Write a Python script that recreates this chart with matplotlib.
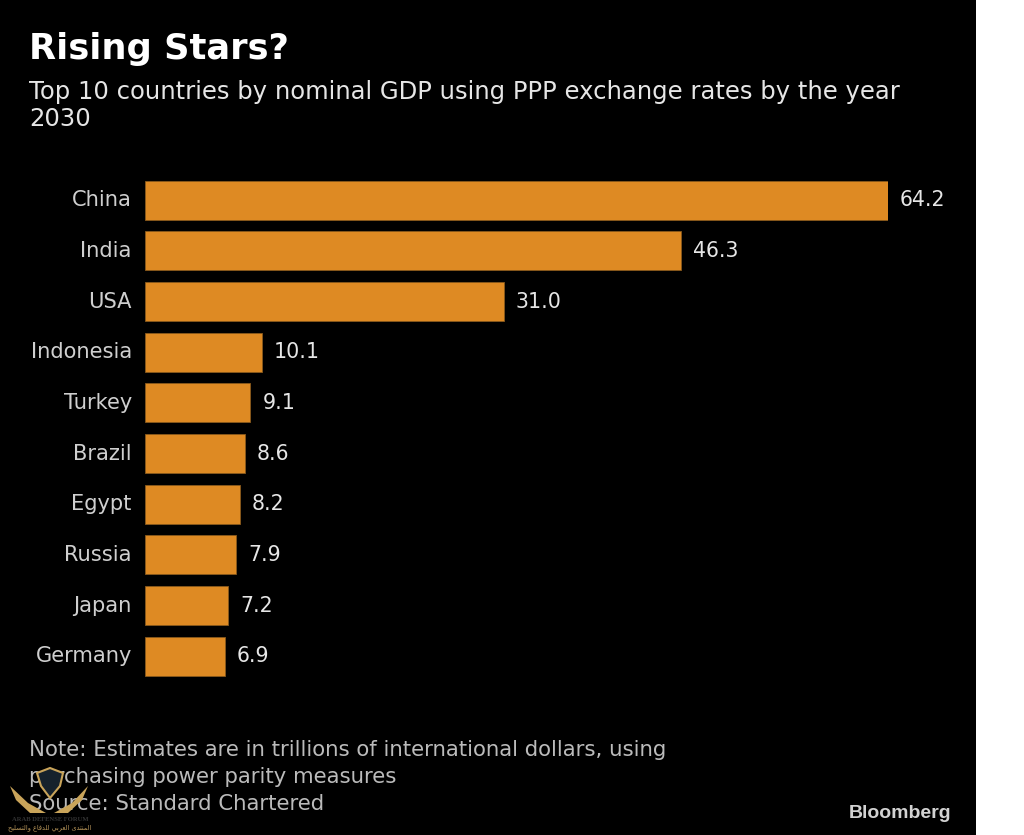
import matplotlib
matplotlib.use("Agg")
import matplotlib.pyplot as plt
from matplotlib.patches import Rectangle, Polygon

countries = ["China", "India", "USA", "Indonesia", "Turkey", "Brazil", "Egypt", "Russia", "Japan", "Germany"]
values = [64.2, 46.3, 31.0, 10.1, 9.1, 8.6, 8.2, 7.9, 7.2, 6.9]
value_labels = ["64.2", "46.3", "31.0", "10.1", "9.1", "8.6", "8.2", "7.9", "7.2", "6.9"]

W, H = 1024, 835
FONT = "DejaVu Sans"
fig = plt.figure(figsize=(W / 100, H / 100), dpi=100, facecolor="white")

bg = fig.add_axes([0, 0, 1, 1])
bg.set_xlim(0, W)
bg.set_ylim(H, 0)
bg.axis("off")
bg.add_patch(Rectangle((0, 0), 976, H, color="black", lw=0))

left, right = 145, 888
top, bottom = 175.0, 681.5
ax = fig.add_axes([left / W, 1 - bottom / H, (right - left) / W, (bottom - top) / H])
ax.patch.set_alpha(0)
ypos = list(range(len(countries)))
ax.barh(ypos, values, height=0.77, color="#DE8A23", edgecolor="#8a5a1c", linewidth=0.6)
ax.set_xlim(0, 64.2)
ax.set_ylim(9.5, -0.5)
ax.set_yticks(ypos, countries, color="#CFCFCF", fontsize=15.1, family=FONT)
ax.tick_params(axis="y", length=0, pad=9.5)
for lab in ax.get_yticklabels():
    lab.set_verticalalignment("center")
ax.set_xticks([])
for s in ax.spines.values():
    s.set_visible(False)
for y, v, lab in zip(ypos, values, value_labels):
    ax.annotate(lab, (v, y), xytext=(12, 0), textcoords="offset pixels",
                va="center", ha="left", color="#E6E6E6", fontsize=14.8, family=FONT,
                annotation_clip=False)

bg.text(29, 49, "Rising Stars?", color="white", fontsize=25.4, fontweight="bold",
        family=FONT, va="center", ha="left")
bg.text(29, 91.5, "Top 10 countries by nominal GDP using PPP exchange rates by the year",
        color="#E6E6E6", fontsize=17.45, family=FONT, va="center", ha="left")
bg.text(29, 118.5, "2030", color="#E6E6E6", fontsize=17.45, family=FONT, va="center", ha="left")
for y, t in [(750, "Note: Estimates are in trillions of international dollars, using"),
             (777, "purchasing power parity measures"),
             (804, "Source: Standard Chartered")]:
    bg.text(29, y, t, color="#BBBBBB", fontsize=15.3, family=FONT, va="center", ha="left")
bg.text(951, 813, "Bloomberg", color="#D2D2D2", fontsize=14, fontweight="bold",
        family="Liberation Sans", va="center", ha="right")

# watermark over the footer
bg.add_patch(Polygon([(37, 773), (50, 768), (63, 773), (60, 786), (50, 798), (41, 786)], closed=True,
                     facecolor="#16222c", edgecolor="#C9A45A", lw=1.5, zorder=5))
bg.add_patch(Polygon([(10, 786), (28, 803), (46, 813), (30, 813), (16, 800)], closed=True,
                     facecolor="#C9A45A", lw=0, zorder=5))
bg.add_patch(Polygon([(88, 786), (72, 803), (54, 813), (68, 813), (82, 800)], closed=True,
                     facecolor="#C9A45A", lw=0, zorder=5))
bg.text(50, 819.5, "ARAB DEFENSE FORUM", color="#333333", fontsize=4.8, fontweight="bold",
        family="Liberation Serif", va="center", ha="center", zorder=6)
arabic_shaped = ("\uFE8D\uFEDF\uFEE4\uFEE8\uFE98\uFEAA\uFEEF \uFE8D\uFEDF\uFECC\uFEAE\uFE91\uFEF2 "
                 "\uFEDF\uFEE0\uFEAA\uFED3\uFE8E\uFEC9 \uFEED\uFE8D\uFEDF\uFE98\uFEB4\uFEE0\uFEF4\uFEA2")
bg.text(50, 828, arabic_shaped[::-1], color="#B8965A", fontsize=4.7,
        family="DejaVu Sans", va="center", ha="center", zorder=6)

fig.savefig("out.png", dpi=100, facecolor="white")
